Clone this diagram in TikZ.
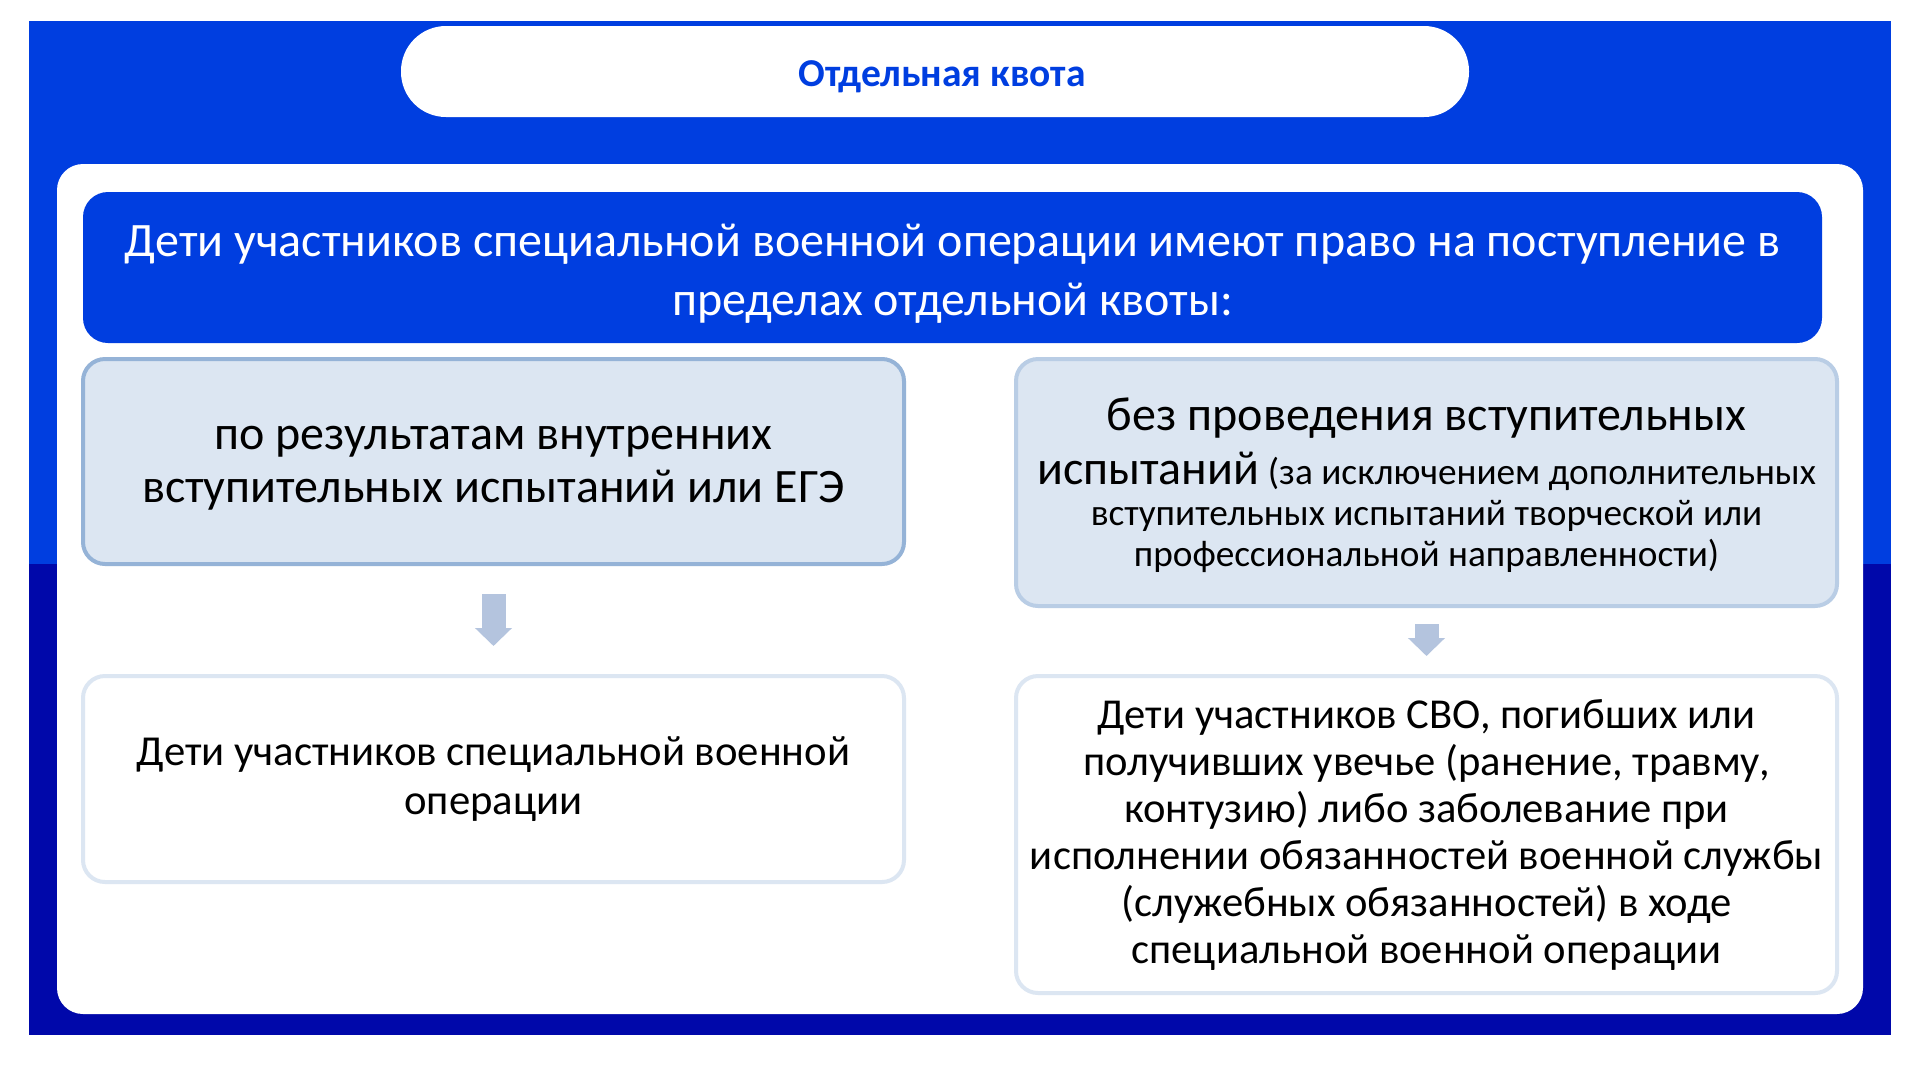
\documentclass[tikz,border=0pt]{standalone}
\usepackage{fontspec}
\setmainfont{Carlito}
\usetikzlibrary{arrows.meta}
\definecolor{bgtop}{RGB}{0,62,224}
\definecolor{bgbottom}{RGB}{0,8,170}
\definecolor{boxfill}{RGB}{220,230,242}
\definecolor{boxlineleft}{RGB}{149,179,215}
\definecolor{boxlineright}{RGB}{185,205,229}
\definecolor{arrowfill}{RGB}{180,196,222}
\newcommand{\lowerby}[2]{\raisebox{-#1}[\height][\depth]{#2}}
\begin{document}
\begin{tikzpicture}[x=1pt,y=-1pt,
  titlebox/.style={rectangle,fill=white,rounded corners=45pt,minimum width=1068pt,minimum height=91pt,inner sep=0pt,text=bgtop,font=\fontsize{39.5}{48}\selectfont\bfseries},
  headbox/.style={rectangle,fill=bgtop,rounded corners=25pt,minimum width=1739pt,minimum height=151pt,inner sep=0pt,text=white,align=center,font=\fontsize{48}{59}\selectfont},
  topbox/.style={rectangle,fill=boxfill,line width=4pt,rounded corners=22pt,minimum width=821pt,inner sep=0pt,align=center},
  bottombox/.style={rectangle,fill=white,draw=boxfill,line width=4pt,rounded corners=22pt,minimum width=821pt,inner sep=0pt,align=center},
  blockarrow/.style={draw=arrowfill,line width=24pt,-{Triangle[length=18pt,width=36pt,fill=arrowfill]}}]
\useasboundingbox (0,0) rectangle (1920,1080);
% Drawing background
\fill[white] (0,0) rectangle (1920,1080);
\fill[bgtop] (29,21) rectangle (1891,564);
\fill[bgbottom] (29,564) rectangle (1891,1035);
\fill[white,rounded corners=26pt] (57,164) rectangle (1863,1014);
% Done with background; drawing boxes
% Title
\node[titlebox] (title) at (935,71.5) {\hspace{14pt}\lowerby{5pt}{Отдельная квота}};
% Header
\node[headbox] (head) at (952.5,267.5) {\lowerby{6pt}{Дети участников специальной военной операции имеют право на поступление в}\\\lowerby{6pt}{пределах отдельной квоты:}};
% Left column
\node[topbox,draw=boxlineleft,minimum height=205pt,font=\fontsize{48}{53}\selectfont] (ltop) at (493.5,461.5) {\lowerby{7pt}{по результатам внутренних}\\\lowerby{7pt}{вступительных испытаний или ЕГЭ}};
\node[bottombox,minimum height=206pt,font=\fontsize{42.7}{49}\selectfont] (lbot) at (493.5,779) {Дети участников специальной военной\\операции};
% Right column
\node[topbox,draw=boxlineright,minimum height=247pt,font=\fontsize{37.3}{41}\selectfont] (rtop) at (1426.5,482.5) {\lowerby{3pt}{\fontsize{48}{53}\selectfont без проведения вступительных}\\[13pt]\lowerby{3pt}{{\fontsize{48}{53}\selectfont испытаний} (за исключением дополнительных}\\\lowerby{3pt}{вступительных испытаний творческой или}\\\lowerby{3pt}{профессиональной направленности)}};
\node[bottombox,minimum height=317pt,font=\fontsize{42.6}{47}\selectfont] (rbot) at (1426.5,834.5) {Дети участников СВО, погибших или\\получивших увечье (ранение, травму,\\контузию) либо заболевание при\\исполнении обязанностей военной службы\\(служебных обязанностей) в ходе\\специальной военной операции};
% Done with boxes; drawing arrows
\draw[blockarrow] ([yshift=-28pt]ltop.south) -- ([yshift=28pt]lbot.north);
\draw[blockarrow] ([yshift=-16pt]rtop.south) -- ([yshift=18pt]rbot.north);
% Done with arrows
\end{tikzpicture}
\end{document}
